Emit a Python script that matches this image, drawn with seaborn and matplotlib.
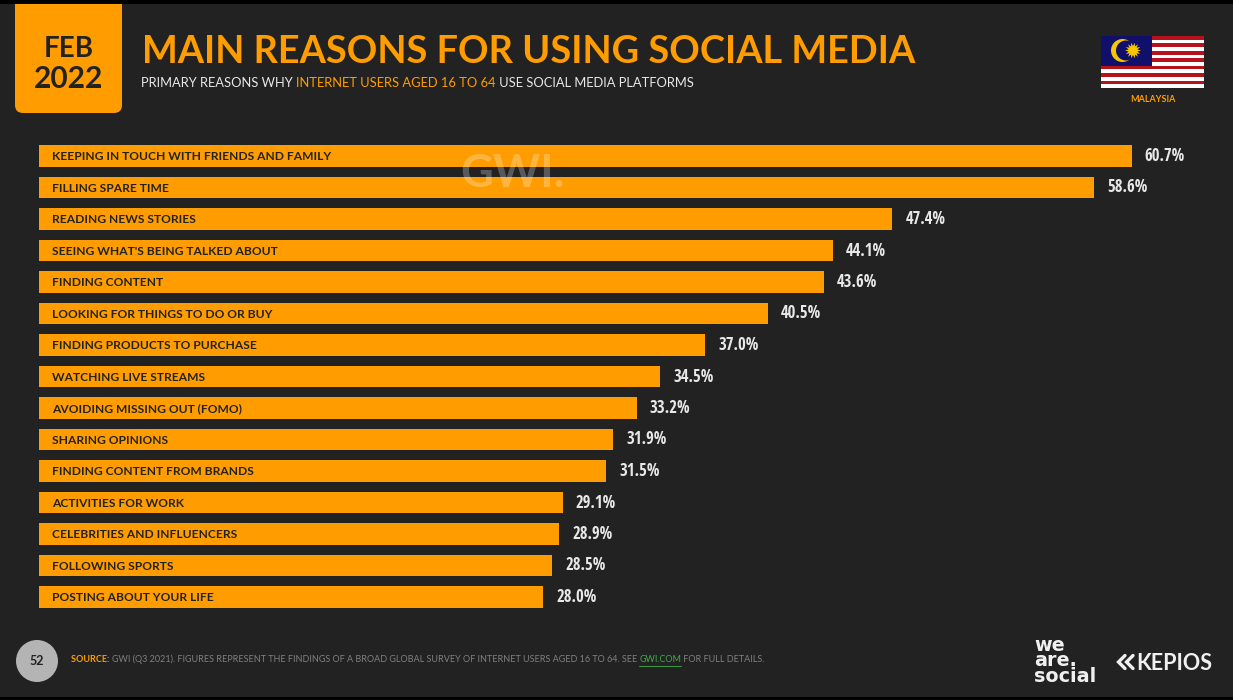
import matplotlib
matplotlib.use('Agg')
import matplotlib.pyplot as plt
import numpy as np
import pandas as pd
import seaborn as sns
from matplotlib.patches import Circle, FancyBboxPatch, Polygon, Rectangle

reasons = [
    'KEEPING IN TOUCH WITH FRIENDS AND FAMILY',
    'FILLING SPARE TIME',
    'READING NEWS STORIES',
    "SEEING WHAT'S BEING TALKED ABOUT",
    'FINDING CONTENT',
    'LOOKING FOR THINGS TO DO OR BUY',
    'FINDING PRODUCTS TO PURCHASE',
    'WATCHING LIVE STREAMS',
    'AVOIDING MISSING OUT (FOMO)',
    'SHARING OPINIONS',
    'FINDING CONTENT FROM BRANDS',
    'ACTIVITIES FOR WORK',
    'CELEBRITIES AND INFLUENCERS',
    'FOLLOWING SPORTS',
    'POSTING ABOUT YOUR LIFE',
]
values = [60.7, 58.6, 47.4, 44.1, 43.6, 40.5, 37.0, 34.5, 33.2, 31.9, 31.5, 29.1, 28.9, 28.5, 28.0]

ORANGE = '#FF9D00'
DARK = '#222222'
LIGHT = '#E8E8E8'
W, H = 1233, 700

sns.set_theme(style='white')
plt.rcParams['font.family'] = ['Lato', 'DejaVu Sans']

fig = plt.figure(figsize=(W / 100, H / 100), dpi=100, facecolor='black')

# slide background and decorations, in pixel coordinates
bg = fig.add_axes([0, 0, 1, 1], zorder=0)
bg.set_xlim(0, W)
bg.set_ylim(H, 0)
bg.axis('off')
bg.add_patch(Rectangle((0, 4), W, 693, color=DARK, lw=0))

# the bars
ax = fig.add_axes([39 / W, 1 - 612.75 / H, 1170 / W, 472.5 / H], zorder=1)
ax.patch.set_alpha(0)
df = pd.DataFrame({'reason': reasons, 'value': values})
sns.barplot(data=df, x='value', y='reason', orient='h', color=ORANGE, saturation=1, width=0.667,
            linewidth=0, edgecolor='none', ax=ax)
ax.set_xlim(0, 65)
ax.set_ylim(14.5, -0.5)
ax.axis('off')
ax.bar_label(ax.containers[0], fmt='%.1f%%', padding=9.4, color=LIGHT, fontsize=12,
             fontweight='bold', family=['Open Sans Condensed', 'Lato'])
for i, reason in enumerate(reasons):
    ax.text(0.72, i + 0.03, reason, va='center', ha='left', fontsize=8.65, fontweight='bold', color=DARK)

fg = fig.add_axes([0, 0, 1, 1], zorder=2)
fg.set_xlim(0, W)
fg.set_ylim(H, 0)
fg.axis('off')
fg.patch.set_alpha(0)

# date tab
fg.add_patch(Rectangle((15, 4), 107, 60, color=ORANGE, lw=0))
fg.add_patch(FancyBboxPatch((15, 30), 107, 83, boxstyle='round,pad=0,rounding_size=8',
                            color=ORANGE, lw=0))
fg.text(69, 49, 'FEB', ha='center', va='center', fontsize=20, fontweight='bold', color=DARK)
fg.text(69, 79, '2022', ha='center', va='center', fontsize=21.5, fontweight='bold', color=DARK)

fg.text(142, 52, 'MAIN REASONS FOR USING SOCIAL MEDIA', ha='left', va='center',
        fontsize=27.3, fontweight='bold', color=ORANGE)

# subtitle with coloured middle part
renderer = fig.canvas.get_renderer()
x = 141
for part, col in [('PRIMARY REASONS WHY ', LIGHT), ('INTERNET USERS AGED 16 TO 64', ORANGE),
                  (' USE SOCIAL MEDIA PLATFORMS', LIGHT)]:
    t = fg.text(x, 83, part.replace(' ', '\u00a0'), ha='left', va='center', fontsize=9.3, color=col)
    x = fg.transData.inverted().transform(t.get_window_extent(renderer))[1, 0]

# flag
stripe_h = 52 / 14
for i in range(14):
    fg.add_patch(Rectangle((1101, 36 + i * stripe_h), 103, stripe_h,
                           color='#B5121B' if i % 2 == 0 else 'white', lw=0))
fg.add_patch(Rectangle((1101, 36), 51, 29.5, color='#10106A', lw=0))
fg.add_patch(Circle((1122.5, 50.5), 11.5, color='#F7C600', lw=0))
fg.add_patch(Circle((1126, 50.5), 10, color='#10106A', lw=0))
ang = np.linspace(0, 2 * np.pi, 29)[:-1]
rad = np.where(np.arange(28) % 2 == 0, 8, 4.5)
fg.add_patch(Polygon(np.c_[1133 + rad * np.cos(ang), 50.5 + rad * np.sin(ang)], color='#F7C600', lw=0))
fg.text(1153, 99, 'MALAYSIA', ha='center', va='center', fontsize=6.5, fontweight='bold', color=ORANGE)

# watermark
fg.text(513, 174, 'GWI.', ha='center', va='center', fontsize=32.5, fontweight='bold', color='white', alpha=0.25)

# footer
fg.add_patch(Circle((37, 661), 21, color='#B4B4B4', lw=0))
fg.text(37, 661, '52', ha='center', va='center', fontsize=9, fontweight='bold', color=DARK)
x = 71
for part, col, weight in [('SOURCE: ', ORANGE, 'bold'),
                          ('GWI (Q3 2021). FIGURES REPRESENT THE FINDINGS OF A BROAD GLOBAL SURVEY OF INTERNET USERS AGED 16 TO 64. SEE ', '#808080', 'normal'),
                          ('GWI.COM', '#3FAE49', 'normal'),
                          (' FOR FULL DETAILS.', '#808080', 'normal')]:
    t = fg.text(x, 659.5, part.replace(' ', '\u00a0'), ha='left', va='center', fontsize=6.45, color=col, fontweight=weight)
    x0 = x
    x = fg.transData.inverted().transform(t.get_window_extent(renderer))[1, 0]
    if part == 'GWI.COM':
        fg.plot([x0, x], [665.5, 665.5], color=col, lw=0.6)

# logos
fg.text(1034, 661, 'we\nare.\nsocial', ha='left', va='center', fontsize=13.8, fontweight='bold', color='#F0F0F0',
        family=['DejaVu Sans'], linespacing=0.78)
fg.text(1212, 663, 'KEPIOS', ha='right', va='center', fontsize=15.5, fontweight='bold', color='#F0F0F0')
for off in (0, 8):
    fg.plot([1125 + off, 1118.5 + off, 1125 + off], [655.5, 662, 668.5], color='#F0F0F0', lw=2.4, solid_joinstyle='miter')

fig.savefig('out.png', dpi=100, facecolor='black')
